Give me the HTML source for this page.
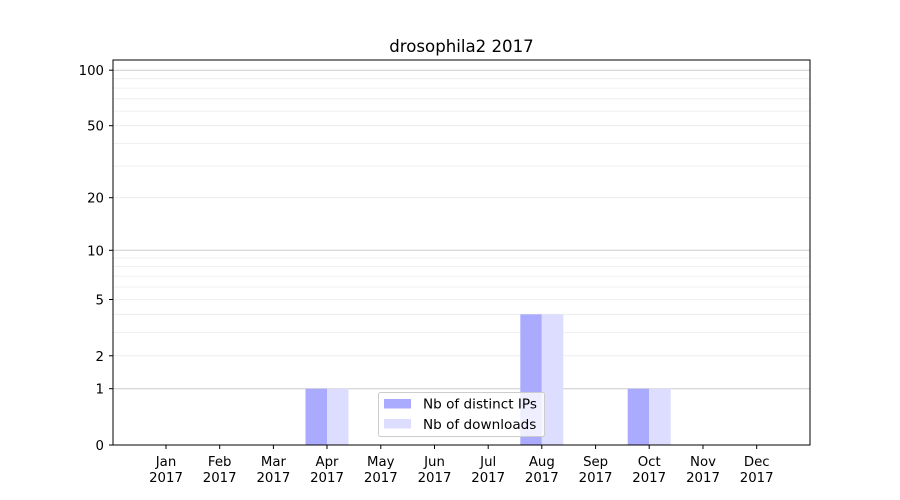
<!DOCTYPE html>
<html><head><style>body{margin:0;background:#fff}svg{display:block}text{font-family:"DejaVu Sans","Liberation Sans",sans-serif;font-size:13.3px;fill:#000}</style></head>
<body>
<svg width="900" height="500" xmlns="http://www.w3.org/2000/svg">
<rect width="900" height="500" fill="#fff"/>
<g stroke="#ebebeb" stroke-width="0.8">
<line x1="113" x2="810" y1="355.8" y2="355.8"/><line x1="113" x2="810" y1="332.4" y2="332.4"/><line x1="113" x2="810" y1="314.3" y2="314.3"/><line x1="113" x2="810" y1="299.5" y2="299.5"/><line x1="113" x2="810" y1="287" y2="287"/><line x1="113" x2="810" y1="276.1" y2="276.1"/><line x1="113" x2="810" y1="266.6" y2="266.6"/><line x1="113" x2="810" y1="258" y2="258"/>
<line x1="113" x2="810" y1="197.7" y2="197.7"/><line x1="113" x2="810" y1="166.1" y2="166.1"/><line x1="113" x2="810" y1="143.4" y2="143.4"/><line x1="113" x2="810" y1="125.7" y2="125.7"/><line x1="113" x2="810" y1="111.1" y2="111.1"/><line x1="113" x2="810" y1="98.8" y2="98.8"/><line x1="113" x2="810" y1="88.1" y2="88.1"/><line x1="113" x2="810" y1="78.7" y2="78.7"/>
</g>
<g stroke="#cccccc" stroke-width="1">
<line x1="113" x2="810" y1="388.7" y2="388.7"/><line x1="113" x2="810" y1="250.3" y2="250.3"/><line x1="113" x2="810" y1="70.2" y2="70.2"/>
</g>
<g>
<rect x="305.5" y="388.7" width="21.5" height="56.3" fill="#aaaaff"/><rect x="327" y="388.7" width="21.5" height="56.3" fill="#ddddff"/>
<rect x="520.3" y="314.3" width="21.5" height="130.7" fill="#aaaaff"/><rect x="541.8" y="314.3" width="21.5" height="130.7" fill="#ddddff"/>
<rect x="627.7" y="388.7" width="21.5" height="56.3" fill="#aaaaff"/><rect x="649.2" y="388.7" width="21.5" height="56.3" fill="#ddddff"/>
</g>
<rect x="113" y="60" width="697" height="385" fill="none" stroke="#000" stroke-width="1"/>
<g stroke="#000">
<line x1="109" x2="113" y1="445" y2="445"/><line x1="109" x2="113" y1="388.7" y2="388.7"/><line x1="109" x2="113" y1="355.8" y2="355.8"/><line x1="109" x2="113" y1="299.5" y2="299.5"/><line x1="109" x2="113" y1="250.3" y2="250.3"/><line x1="109" x2="113" y1="197.7" y2="197.7"/><line x1="109" x2="113" y1="125.7" y2="125.7"/><line x1="109" x2="113" y1="70.2" y2="70.2"/>
</g>
<g text-anchor="end">
<text x="104" y="450">0</text><text x="104" y="393.7">1</text><text x="104" y="360.8">2</text><text x="104" y="304.5">5</text><text x="104" y="255.3">10</text><text x="104" y="202.7">20</text><text x="104" y="130.7">50</text><text x="104" y="75.2">100</text>
</g>
<g text-anchor="middle">
<g stroke="#000">
<line x1="166" x2="166" y1="445" y2="449"/><line x1="219.7" x2="219.7" y1="445" y2="449"/><line x1="273.4" x2="273.4" y1="445" y2="449"/><line x1="327" x2="327" y1="445" y2="449"/><line x1="380.8" x2="380.8" y1="445" y2="449"/><line x1="434.5" x2="434.5" y1="445" y2="449"/><line x1="488.2" x2="488.2" y1="445" y2="449"/><line x1="541.8" x2="541.8" y1="445" y2="449"/><line x1="595.6" x2="595.6" y1="445" y2="449"/><line x1="649.2" x2="649.2" y1="445" y2="449"/><line x1="703" x2="703" y1="445" y2="449"/><line x1="756.7" x2="756.7" y1="445" y2="449"/>
</g>
<text x="166" y="466">Jan</text><text x="166" y="482">2017</text>
<text x="219.7" y="466">Feb</text><text x="219.7" y="482">2017</text>
<text x="273.4" y="466">Mar</text><text x="273.4" y="482">2017</text>
<text x="327" y="466">Apr</text><text x="327" y="482">2017</text>
<text x="380.8" y="466">May</text><text x="380.8" y="482">2017</text>
<text x="434.5" y="466">Jun</text><text x="434.5" y="482">2017</text>
<text x="488.2" y="466">Jul</text><text x="488.2" y="482">2017</text>
<text x="541.8" y="466">Aug</text><text x="541.8" y="482">2017</text>
<text x="595.6" y="466">Sep</text><text x="595.6" y="482">2017</text>
<text x="649.2" y="466">Oct</text><text x="649.2" y="482">2017</text>
<text x="703" y="466">Nov</text><text x="703" y="482">2017</text>
<text x="756.7" y="466">Dec</text><text x="756.7" y="482">2017</text>
</g>
<text x="461.5" y="52" text-anchor="middle" style="font-size:16.6px">drosophila2 2017</text>
<rect x="378.5" y="392.5" width="166" height="44" rx="2" fill="#fff" fill-opacity="0.8" stroke="#cccccc"/>
<rect x="384" y="399" width="27" height="9.5" fill="#aaaaff"/>
<rect x="384" y="419" width="27" height="9.5" fill="#ddddff"/>
<text x="423" y="408.5" style="font-size:13.6px">Nb of distinct IPs</text>
<text x="423" y="429" style="font-size:13.6px">Nb of downloads</text>
</svg>
</body></html>
